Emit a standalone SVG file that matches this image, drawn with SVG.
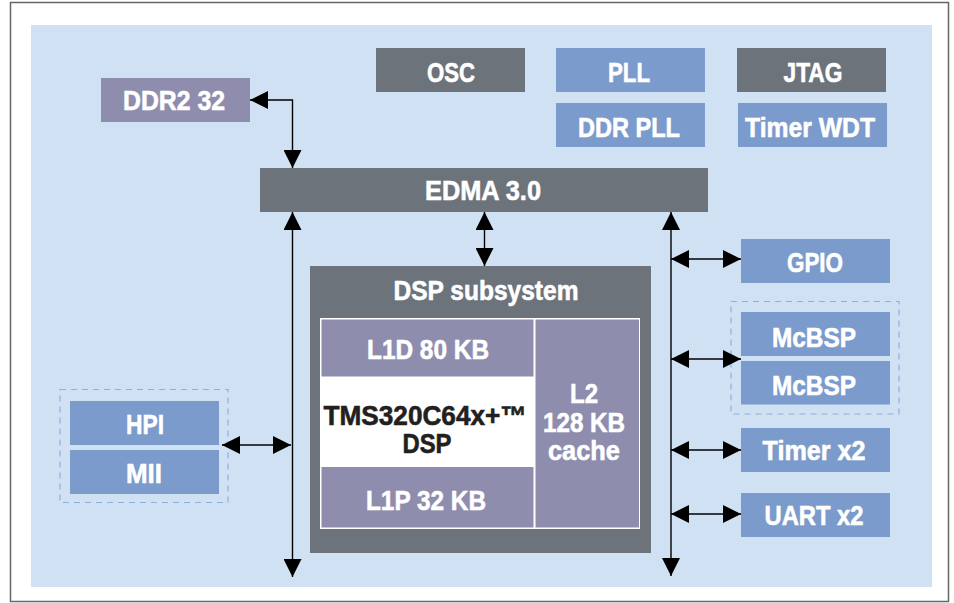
<svg xmlns="http://www.w3.org/2000/svg" width="954" height="603" viewBox="0 0 954 603">
<style>
.t{font-family:"Liberation Sans",Arial,sans-serif;font-weight:bold;font-size:28px;fill:#fff;stroke:#fff;stroke-width:0.6;text-anchor:middle}
.d{fill:#231f20;stroke:#231f20;font-size:27px}
.gray{fill:#6c737b}
.blue{fill:#7a9bcb}
.purp{fill:#8e8dae}
.dash{fill:none;stroke:#8fb0dd;stroke-width:1.2;stroke-dasharray:6 5}
.c{fill:none;stroke:#000;stroke-width:1.4;marker-start:url(#ah);marker-end:url(#ah)}
</style>
<defs>
<marker id="ah" viewBox="0 0 18 18" refX="18" refY="9" markerWidth="18" markerHeight="18" orient="auto-start-reverse" markerUnits="userSpaceOnUse">
<path d="M0,0 L18,9 L0,18 Z" fill="#000"/>
</marker>
</defs>
<rect x="0" y="0" width="954" height="603" fill="#fff"/>
<rect x="10.5" y="2.5" width="938" height="599" fill="#fff" stroke="#666" stroke-width="1.5"/>
<rect x="31" y="25" width="901" height="562" fill="#cfe1f2"/>

<g id="osc"><rect class="gray" x="376" y="48" width="149" height="44"/><text class="t" x="451" y="82" textLength="48" lengthAdjust="spacingAndGlyphs">OSC</text></g>
<g id="pll"><rect class="blue" x="556" y="48" width="149" height="44"/><text class="t" x="629" y="82" textLength="42" lengthAdjust="spacingAndGlyphs">PLL</text></g>
<g id="jtag"><rect class="gray" x="737" y="48" width="149" height="44"/><text class="t" x="813" y="82" textLength="59" lengthAdjust="spacingAndGlyphs">JTAG</text></g>
<g id="ddrpll"><rect class="blue" x="556" y="103" width="149" height="44"/><text class="t" x="629" y="137" textLength="102" lengthAdjust="spacingAndGlyphs">DDR PLL</text></g>
<g id="timerwdt"><rect class="blue" x="738" y="103" width="149" height="44"/><text class="t" x="810" y="137" textLength="130" lengthAdjust="spacingAndGlyphs">Timer WDT</text></g>
<g id="ddr2"><rect class="purp" x="101" y="78" width="149" height="44"/><text class="t" x="174" y="110" textLength="102" lengthAdjust="spacingAndGlyphs">DDR2 32</text></g>
<g id="edma"><rect class="gray" x="260" y="168" width="448" height="44"/><text class="t" x="483" y="200" textLength="116" lengthAdjust="spacingAndGlyphs">EDMA 3.0</text></g>

<g id="dsp">
<rect class="gray" x="310" y="266" width="341" height="287"/>
<text class="t" x="486" y="300" textLength="185" lengthAdjust="spacingAndGlyphs">DSP subsystem</text>
<rect x="320" y="318" width="320" height="211" fill="#fff"/>
<g id="l1d"><rect class="purp" x="321.5" y="319.5" width="212" height="57"/><text class="t" x="428" y="359" textLength="122" lengthAdjust="spacingAndGlyphs">L1D 80 KB</text></g>
<g id="core"><text class="t d" x="425" y="425" textLength="203" lengthAdjust="spacingAndGlyphs">TMS320C64x+™</text><text class="t d" x="427" y="453" textLength="49" lengthAdjust="spacingAndGlyphs">DSP</text></g>
<g id="l1p"><rect class="purp" x="321.5" y="467" width="212" height="60.5"/><text class="t" x="426" y="510" textLength="120" lengthAdjust="spacingAndGlyphs">L1P 32 KB</text></g>
<g id="l2"><rect class="purp" x="535.5" y="319.5" width="103.5" height="208"/>
<text class="t" x="584" y="403" textLength="28" lengthAdjust="spacingAndGlyphs">L2</text>
<text class="t" x="584" y="432" textLength="82" lengthAdjust="spacingAndGlyphs">128 KB</text>
<text class="t" x="584" y="460" textLength="72" lengthAdjust="spacingAndGlyphs">cache</text></g>
</g>

<g id="gpio"><rect class="blue" x="741" y="239" width="149" height="44"/><text class="t" x="815" y="272" textLength="56" lengthAdjust="spacingAndGlyphs">GPIO</text></g>
<g id="mcbsp">
<rect class="dash" x="731" y="301.5" width="168" height="112.5"/>
<rect class="blue" x="741" y="312" width="149" height="44"/><text class="t" x="814" y="347" textLength="84" lengthAdjust="spacingAndGlyphs">McBSP</text>
<rect class="blue" x="741" y="361" width="149" height="43.5"/><text class="t" x="814" y="395" textLength="84" lengthAdjust="spacingAndGlyphs">McBSP</text>
</g>
<g id="timerx2"><rect class="blue" x="741" y="428" width="149" height="44"/><text class="t" x="814" y="460" textLength="103" lengthAdjust="spacingAndGlyphs">Timer x2</text></g>
<g id="uartx2"><rect class="blue" x="741" y="493" width="149" height="44"/><text class="t" x="814" y="525" textLength="99" lengthAdjust="spacingAndGlyphs">UART x2</text></g>
<g id="hpimii">
<rect class="dash" x="60" y="389.5" width="168" height="113"/>
<rect class="blue" x="70" y="401" width="149" height="44"/><text class="t" x="145" y="434" textLength="38" lengthAdjust="spacingAndGlyphs">HPI</text>
<rect class="blue" x="70" y="450" width="149" height="44"/><text class="t" x="144" y="483" textLength="36" lengthAdjust="spacingAndGlyphs">MII</text>
</g>

<g id="connectors">
<path class="c" d="M250,100 H292.5 V168"/>
<path class="c" d="M292.5,212 V577"/>
<path class="c" d="M671,212 V576"/>
<path class="c" d="M484.5,212 V266"/>
<path class="c" d="M671,259 H741"/>
<path class="c" d="M671,359 H741"/>
<path class="c" d="M671,450 H741"/>
<path class="c" d="M671,514 H741"/>
<path class="c" d="M222,445 H291"/>
</g>
</svg>
